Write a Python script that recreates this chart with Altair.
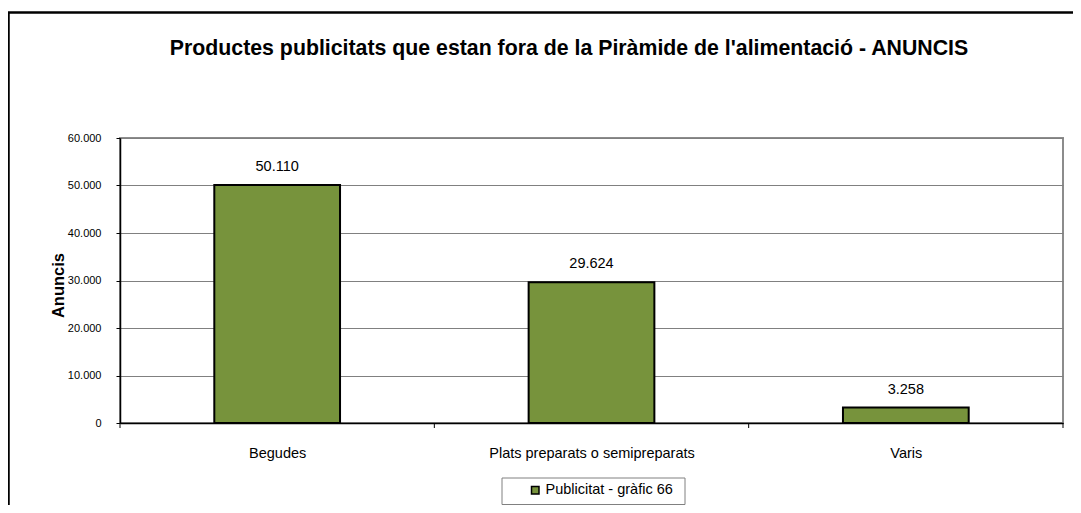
import altair as alt
import pandas as pd

categories = ["Begudes", "Plats preparats o semipreparats", "Varis"]
values = [50110, 29624, 3258]
series_name = "Publicitat - gràfic 66"
title_text = "Productes publicitats que estan fora de la Piràmide de l'alimentació - ANUNCIS"
y_ticks = [0, 10000, 20000, 30000, 40000, 50000, 60000]

FONT = "Liberation Sans, Arial, sans-serif"
GREEN = "#77933C"

df = pd.DataFrame({"cat": categories, "value": values, "i": list(range(len(categories))),
                   "serie": [series_name] * len(categories)})

W, H = 943, 285
xscale = alt.Scale(domain=[0, len(categories)], nice=False, zero=False)
yscale = alt.Scale(domain=[0, 60000], nice=False)

label_expr = "[" + ",".join("'" + c.replace("'", "\\'") + "'" for c in categories) + "][floor(datum.value)]"

base = alt.Chart(df)

bars = base.transform_calculate(
    x0="datum.i + 0.3", x1="datum.i + 0.7"
).mark_bar(stroke="black", strokeWidth=2).encode(
    x=alt.X("x0:Q", scale=xscale, title=None,
            axis=alt.Axis(values=[i + 0.5 for i in range(len(categories))], labelExpr=label_expr,
                          ticks=False, grid=False, domainColor="black", domainWidth=1.5,
                          labelFont=FONT, labelFontSize=14.5, labelColor="black", labelLimit=0,
                          labelBaseline="alphabetic", labelPadding=34)),
    x2="x1:Q",
    y=alt.Y("value:Q", scale=yscale,
            axis=alt.Axis(values=y_ticks, title="Anuncis",
                          labelExpr="replace(format(datum.value, ','), ',', '.')",
                          labelFont=FONT, labelFontSize=11, labelColor="black", labelPadding=15,
                          tickSize=4, tickColor="black", domainColor="black", domainWidth=1.5,
                          gridColor="#808080", gridWidth=1,
                          titleFont=FONT, titleFontSize=16.5, titleFontWeight="bold", titleColor="black",
                          titleAngle=270, titleX=-57, titleY=147, titleAlign="center",
                          titleBaseline="alphabetic")),
    y2=alt.datum(0),
    color=alt.Color("serie:N", scale=alt.Scale(range=[GREEN]),
                    legend=alt.Legend(title=None, orient="none", legendX=408, legendY=345,
                                      symbolType="square", symbolSize=56, symbolStrokeColor="black",
                                      symbolStrokeWidth=1.5, labelFont=FONT, labelFontSize=14.5,
                                      labelColor="black", labelOffset=3, padding=0)),
)

labels = base.transform_calculate(
    xc="datum.i + 0.5",
    txt="replace(format(datum.value, ','), ',', '.')"
).mark_text(font=FONT, fontSize=14.5, color="black", baseline="alphabetic", dy=-14).encode(
    x=alt.X("xc:Q", scale=xscale),
    y=alt.Y("value:Q", scale=yscale),
    text="txt:N",
)

cat_ticks = alt.Chart(pd.DataFrame({"b": list(range(len(categories) + 1))})).mark_rule(
    color="black", strokeWidth=1
).encode(x=alt.X("b:Q", scale=xscale), y=alt.value(H), y2=alt.value(H + 5))

one = pd.DataFrame({"k": [0]})
outer = alt.Chart(one).mark_rect(fill=None, stroke="black", strokeWidth=2.5).encode(
    x=alt.value(-111.5), x2=alt.value(1100), y=alt.value(-125.5), y2=alt.value(420))
legend_box = alt.Chart(one).mark_rect(fill=None, stroke="#808080", strokeWidth=1).encode(
    x=alt.value(382), x2=alt.value(565), y=alt.value(340), y2=alt.value(366.5))
title = alt.Chart(pd.DataFrame({"t": [title_text]})).mark_text(
    font=FONT, fontSize=21.3, fontWeight="bold", color="black", baseline="alphabetic", align="center"
).encode(x=alt.value(449), y=alt.value(-83), text="t:N")

chart = alt.layer(bars, labels, cat_ticks, outer, legend_box, title).properties(
    width=W, height=H,
    autosize=alt.AutoSizeParams(type="none"),
    padding={"left": 112, "top": 130, "right": 10, "bottom": 82},
    background="white",
).configure_view(stroke="#8c8c8c", strokeWidth=2)

chart.save("out.html", embed_options={"renderer": "svg", "actions": False})
